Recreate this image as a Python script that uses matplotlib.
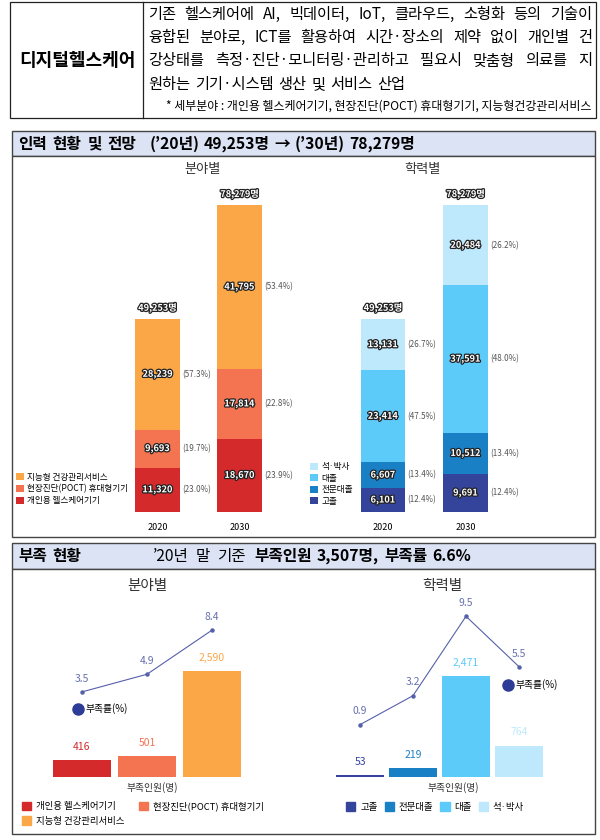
import matplotlib
matplotlib.use('Agg')
import matplotlib.pyplot as plt
import matplotlib.patheffects as pe
from matplotlib.patches import Rectangle, Patch
from matplotlib.lines import Line2D

plt.rcParams['font.family'] = ['Noto Sans CJK KR', 'DejaVu Sans']

# ---- 데이터 ----
years = ['2020', '2030']
totals = [49253, 78279]

field_names = ['개인용 헬스케어기기', '현장진단(POCT) 휴대형기기', '지능형 건강관리서비스']
field_2020 = [11320, 9693, 28239]
field_2030 = [18670, 17814, 41795]

edu_names = ['고졸', '전문대졸', '대졸', '석·박사']
edu_2020 = [6101, 6607, 23414, 13131]
edu_2030 = [9691, 10512, 37591, 20484]

short_field = [416, 501, 2590]
rate_field = [3.5, 4.9, 8.4]
short_edu = [53, 219, 2471, 764]
rate_edu = [0.9, 3.2, 9.5, 5.5]

field_colors = ['#D42A2B', '#F47351', '#FBA748']
edu_colors = ['#35449B', '#1A80C6', '#5CCBFA', '#BEE9FC']
line_color = '#5560AA'
rate_label_color = '#6670B0'

W, H = 600, 840
fig = plt.figure(figsize=(W / 100, H / 100), dpi=100)
bg = fig.add_axes([0, 0, 1, 1])
bg.set_xlim(0, W)
bg.set_ylim(H, 0)
bg.axis('off')
renderer = fig.canvas.get_renderer()


def chart_axes(x0, x1, y_top, y_base, c0, step, px_per_unit):
    ax = fig.add_axes([x0 / W, 1 - y_base / H, (x1 - x0) / W, (y_base - y_top) / H])
    ax.set_xlim(-(c0 - x0) / step, (x1 - c0) / step)
    ax.set_ylim(0, (y_base - y_top) / px_per_unit)
    ax.set_frame_on(False)
    ax.set_xticks([])
    ax.set_yticks([])
    return ax


def fig_xy(px, py):
    return (px / W, 1 - py / H)


def text_width(t):
    return t.get_window_extent(renderer).width


def spaced(x0, y, parts, gap, **kw):
    # 단어 사이 간격을 넓게 두고 차례로 배치
    x = x0
    for p in parts:
        t = bg.text(x, y, p, va='center', **kw)
        x += text_width(t) + gap
    return x


# ---- 상단 표 ----
bg.add_patch(Rectangle((10, 2), 586, 116, fill=False, ec='#222', lw=0.9))
bg.plot([143, 143], [2, 118], color='#222', lw=0.9)
bg.text(77, 60, '디지털헬스케어', fontsize=13, fontweight='bold', ha='center', va='center')

body = ['기존 헬스케어에 AI, 빅데이터, IoT, 클라우드, 소형화 등의 기술이',
        '융합된 분야로, ICT를 활용하여 시간·장소의 제약 없이 개인별 건',
        '강상태를 측정·진단·모니터링·관리하고 필요시 맞춤형 의료를 지']
for k, line in enumerate(body):
    words = line.split(' ')
    ts = [bg.text(0, 14 + 23.5 * k, w, fontsize=11, va='center') for w in words]
    ws = [text_width(t) for t in ts]
    gap = (592 - 148 - sum(ws)) / (len(ws) - 1)
    x = 148
    for t, w in zip(ts, ws):
        t.set_x(x)
        x += w + gap
spaced(148, 84.5, '원하는 기기·시스템 생산 및 서비스 산업'.split(' '), 5, fontsize=11)
bg.text(591, 106, '* 세부분야 : 개인용 헬스케어기기, 현장진단(POCT) 휴대형기기, 지능형건강관리서비스',
        fontsize=8.6, ha='right', va='center')

# ---- 섹션 틀 ----
header_color = '#DCE3F5'
for top, mid, bottom in [(131, 156, 537), (543, 569, 834)]:
    bg.add_patch(Rectangle((12, top), 583, mid - top, fc=header_color, ec='#444', lw=1))
    bg.add_patch(Rectangle((12, mid), 583, bottom - mid, fc='white', ec='#444', lw=1))

hdr = dict(fontsize=11.3, fontweight='bold')
x = spaced(18, 144, ['인력', '현황', '및', '전망'], 6, **hdr)
spaced(x + 7, 144, ['(’20년)', '49,253명', '→', '(’30년)', '78,279명'], 4.5, **hdr)
spaced(18, 556, ['부족', '현황'], 6, **hdr)
x = spaced(153, 556, ['’20년', '말', '기준'], 7, fontsize=11.2)
spaced(x + 2, 556, ['부족인원', '3,507명,', '부족률', '6.6%'], 5, **hdr)

bg.text(203, 170, '분야별', fontsize=9.5, ha='center', va='center', color='#333')
bg.text(422, 170, '학력별', fontsize=9.5, ha='center', va='center', color='#333')
bg.text(147, 586, '분야별', fontsize=10.5, ha='center', va='center', color='#333')
bg.text(442, 586, '학력별', fontsize=10.5, ha='center', va='center', color='#333')

# ---- 인력 현황: 누적 막대 ----
outline = [pe.withStroke(linewidth=1.8, foreground='#222')]
bar_w = 0.54


def stacked(ax, by_year, colors, names, legend_xy):
    bottoms = [0, 0]
    for k, color in enumerate(colors):
        vals = [s[k] for s in by_year]
        ax.bar(range(len(years)), vals, bar_w, bottom=bottoms, color=color, label=names[k])
        for i, (b, v) in enumerate(zip(bottoms, vals)):
            ax.text(i, b + v / 2, f'{v:,}', ha='center', va='center', fontsize=6.6,
                    fontweight='bold', color='white', path_effects=outline)
            ax.text(i + bar_w / 2 + 0.03, b + v / 2, f'({v / totals[i] * 100:.1f}%)',
                    ha='left', va='center', fontsize=5.8, color='#555')
        bottoms = [b + v for b, v in zip(bottoms, vals)]
    for i, t in enumerate(totals):
        ax.annotate(f'{t:,}명', (i, bottoms[i]), xytext=(0, 8), textcoords='offset points',
                    ha='center', va='center', fontsize=6.6, fontweight='bold',
                    color='white', path_effects=outline)
    ax.set_xticks(range(len(years)), years)
    ax.tick_params(length=0, pad=8, labelsize=6.5)
    handles, labels = ax.get_legend_handles_labels()
    ax.legend(handles[::-1], labels[::-1], loc='center left', bbox_to_anchor=fig_xy(*legend_xy),
              bbox_transform=fig.transFigure, frameon=False, fontsize=6.2,
              handlelength=0.9, handleheight=0.9, handletextpad=0.4,
              labelspacing=0.3, borderpad=0, borderaxespad=0)


ax1 = chart_axes(60, 300, 180, 512, 157.5, 82, 0.00392)
stacked(ax1, [field_2020, field_2030], field_colors, field_names, (16, 489))
ax2 = chart_axes(305, 560, 180, 512, 383, 82.5, 0.00392)
stacked(ax2, [edu_2020, edu_2030], edu_colors, edu_names, (310, 484))


# ---- 부족 현황: 막대 + 부족률 선 ----
def shortage(ax, vals, rates, colors, names, rate_legend_xy, legend_xy, ncol, colspace):
    x = range(len(vals))
    ax.bar(x, vals, 0.9, color=colors)
    for i, v in enumerate(vals):
        ax.annotate(f'{v:,}', (i, v), xytext=(0, 9.5), textcoords='offset points',
                    ha='center', va='center', fontsize=7.5, color=colors[i])
    tw = ax.twinx()
    tw.set_frame_on(False)
    tw.set_yticks([])
    tw.set_ylim((736 - 777) / 12.6, (736 - 595) / 12.6)
    tw.plot(x, rates, color=line_color, lw=0.8, marker='o', ms=2.2)
    for i, r in enumerate(rates):
        tw.annotate(f'{r}', (i, r), xytext=(0, 9.5), textcoords='offset points',
                    ha='center', va='center', fontsize=7.5, color=rate_label_color)
    rh = [Line2D([], [], ls='none', marker='o', ms=8, color='#2D3C97')]
    tw.legend(rh, ['부족률(%)'], loc='center left', bbox_to_anchor=fig_xy(*rate_legend_xy),
              bbox_transform=fig.transFigure, frameon=False, fontsize=7,
              handlelength=1.0, handletextpad=0.3, borderpad=0, borderaxespad=0)
    ax.text(0.5, -0.06, '부족인원(명)', transform=ax.transAxes, ha='center', va='center',
            fontsize=7, color='#333')
    handles = [Patch(color=c) for c in colors]
    order = list(range(len(colors)))
    if ncol == 2:
        order = [0, 2, 1]
    ax.legend([handles[j] for j in order], [names[j] for j in order], loc='center left',
              bbox_to_anchor=fig_xy(*legend_xy), bbox_transform=fig.transFigure,
              ncol=ncol, frameon=False, fontsize=6.8, handlelength=1.0, handleheight=1.0,
              handletextpad=0.5, columnspacing=colspace, labelspacing=0.55,
              borderpad=0, borderaxespad=0)


ax3 = chart_axes(25, 280, 595, 777, 82, 65, 0.041)
shortage(ax3, short_field, rate_field, field_colors, field_names, (73, 709), (22, 813.5), 2, 1.5)
ax4 = chart_axes(322, 585, 595, 777, 360, 53, 0.041)
shortage(ax4, short_edu, rate_edu, edu_colors, edu_names, (503, 685), (346, 807), 4, 0.75)

fig.savefig('out.png', dpi=100)
